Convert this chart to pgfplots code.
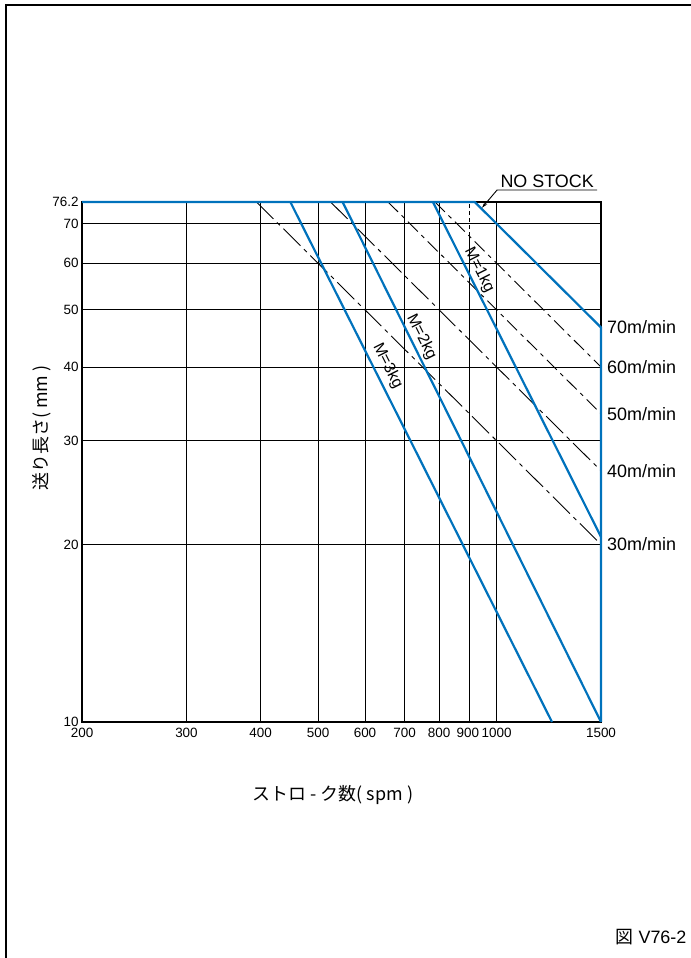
\documentclass[border=0pt]{standalone}
\usepackage{fontspec}
\setmainfont{Liberation Sans}
\newfontfamily\jp{Noto Sans CJK JP}
\usepackage{pgfplots}
\pgfplotsset{compat=1.18}
\usetikzlibrary{arrows.meta}
\definecolor{feedblue}{RGB}{0,114,188}

\begin{document}
\begin{tikzpicture}
\path[use as bounding box] (0,0) rectangle (691bp,958bp);
% partial frame (top and left only)
\draw[line width=1.3bp] (6bp,0) -- (6bp,953bp) -- (691bp,953bp);
\begin{axis}[
  at={(82bp,236bp)}, anchor=south west,
  scale only axis, width=519bp, height=520bp,
  xmode=log, ymode=log,
  xmin=200, xmax=1500, ymin=10, ymax=76.2,
  xtick={200,300,400,500,600,700,800,1000,1500},
  xticklabels={200,300,400,500,600,700,800,1000,1500},
  extra x ticks={900}, extra x tick labels={900},
  extra x tick style={grid=none, xticklabel style={xshift=-1.5bp}},
  ytick={10,20,30,40,50,60,70,76.2},
  yticklabels={10,20,30,40,50,60,70,76.2},
  major tick length=0pt,
  grid=major,
  major grid style={black, line width=0.9bp},
  axis line style={black, line width=1.3bp},
  tick label style={font=\fontsize{13.5}{15}\selectfont},
  xticklabel style={yshift=-3bp},
  /pgf/number format/assume math mode=true,
  clip=false,
]
% 900 grid line: solid below the 60 m/min line, dashed above
\addplot[black, line width=0.9bp] coordinates {(900,10) (900,66.67)};
\addplot[black, line width=0.9bp, dash pattern=on 4bp off 3bp] coordinates {(900,66.67) (900,76.2)};

% speed lines (m/min)
\addplot[black, line width=0.9bp, dash pattern=on 24bp off 5bp on 4bp off 5bp] coordinates {(393.7,76.2) (1500,20)};
\addplot[black, line width=0.9bp, dash pattern=on 24bp off 5bp on 4bp off 5bp] coordinates {(524.9,76.2) (1500,26.67)};
\addplot[black, line width=0.9bp, dash pattern=on 14bp off 5bp on 4bp off 5bp] coordinates {(656.2,76.2) (1500,33.33)};
\addplot[black, line width=0.9bp, dash pattern=on 14bp off 5bp on 4bp off 5bp] coordinates {(787.4,76.2) (1500,40)};

% limit envelope (NO STOCK = 70 m/min)
\addplot[feedblue, line width=2.2bp, line join=miter] coordinates {(200,76.2) (918.6,76.2) (1500,46.67) (1500,10)};

% mass lines
\addplot[feedblue, line width=2.2bp] coordinates {(781,76.2) (1500,20.6)};
\addplot[feedblue, line width=2.2bp] coordinates {(550,76.2) (1500,10)};
\addplot[feedblue, line width=2.2bp] coordinates {(449,76.2) (1240,10)};

\node[anchor=west, inner sep=0pt, xshift=6bp, font=\fontsize{18}{20}\selectfont] at (axis cs:1500,46.67) {70m/min};
\node[anchor=west, inner sep=0pt, xshift=6bp, font=\fontsize{18}{20}\selectfont] at (axis cs:1500,40) {60m/min};
\node[anchor=west, inner sep=0pt, xshift=6bp, font=\fontsize{18}{20}\selectfont] at (axis cs:1500,33.33) {50m/min};
\node[anchor=west, inner sep=0pt, xshift=6bp, font=\fontsize{18}{20}\selectfont] at (axis cs:1500,26.67) {40m/min};
\node[anchor=west, inner sep=0pt, xshift=6bp, font=\fontsize{18}{20}\selectfont] at (axis cs:1500,20) {30m/min};

\node[rotate=-63.3, font=\fontsize{16}{18}\selectfont] at (axis cs:935,58.4) {M=1kg};
\node[rotate=-63.3, font=\fontsize{16}{18}\selectfont] at (axis cs:747,45) {M=2kg};
\node[rotate=-63.3, font=\fontsize{16}{18}\selectfont] at (axis cs:655,40.2) {M=3kg};

\draw[line width=0.9bp, -{Stealth[length=6bp,width=3.5bp]}] (axis cs:1478,79.86) -- (axis cs:1002,79.86) -- (axis cs:945,74.5);
\node[anchor=south, inner sep=2bp, font=\fontsize{18}{20}\selectfont] at (axis cs:1217,79.86) {NO STOCK};
\end{axis}
\node[font=\jp\fontsize{18}{20}\selectfont] at (333bp,163bp) {ストロ - ク数( spm )};
\node[rotate=90, font=\jp\fontsize{18}{20}\selectfont] at (42bp,530bp) {送り長さ( mm )};
\node[font=\fontsize{18}{20}\selectfont] at (651bp,20.5bp) {{\jp 図} V76-2};
\end{tikzpicture}
\end{document}
